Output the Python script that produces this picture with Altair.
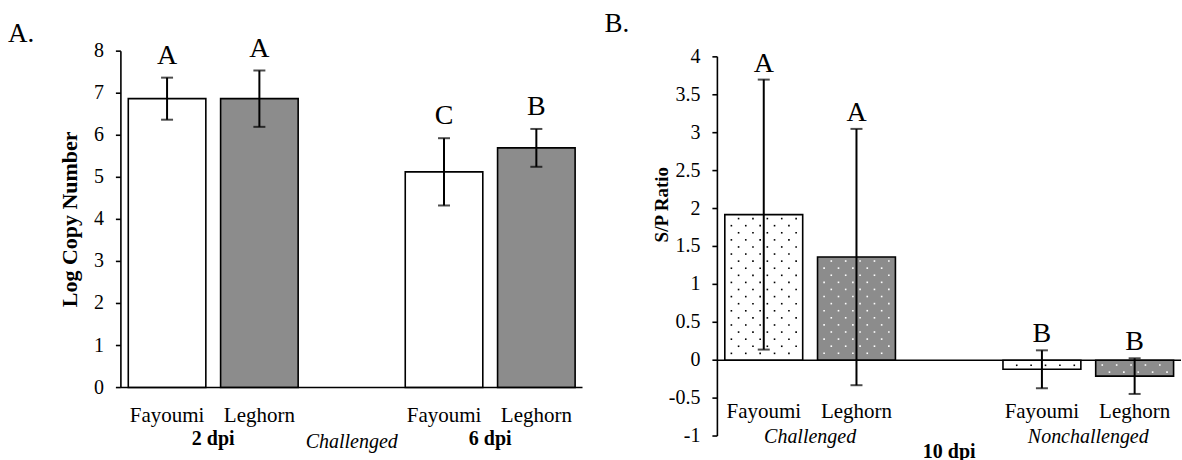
import altair as alt
import numpy as np
import pandas as pd

FONT = "Liberation Serif"
GRAY = "#8c8c8c"

# ---- Panel A: log copy number, challenged birds at 2 and 6 dpi ----
a_breed = ["Fayoumi", "Leghorn", "Fayoumi", "Leghorn"]
a_slot = [0, 1, 3, 4]
a_day = ["2 dpi", "2 dpi", "6 dpi", "6 dpi"]
a_mean = [6.87, 6.87, 5.13, 5.70]
a_err = [0.50, 0.67, 0.80, 0.45]
a_letter = ["A", "A", "C", "B"]
a_treatment = "Challenged"
a_ticks = [0, 1, 2, 3, 4, 5, 6, 7, 8]
a_title = "Log Copy Number"

# ---- Panel B: S/P ratio at 10 dpi ----
b_breed = ["Fayoumi", "Leghorn", "Fayoumi", "Leghorn"]
b_slot = [0, 1, 3, 4]
b_group = ["Challenged", "Challenged", "Nonchallenged", "Nonchallenged"]
b_mean = [1.92, 1.36, -0.12, -0.21]
b_err = [1.78, 1.69, 0.25, 0.235]
b_letter = ["A", "A", "B", "B"]
b_day = "10 dpi"
b_ticks = [-1, -0.5, 0, 0.5, 1, 1.5, 2, 2.5, 3, 3.5, 4]
b_title = "S/P Ratio"

BAR_HALF = 0.42  # half bar width, in slot units


def bar_table(breed, slot, mean, err, letter):
    df = pd.DataFrame({"breed": breed, "slot": slot, "mean": mean, "err": err, "letter": letter})
    df["lo"] = df["slot"] - BAR_HALF
    df["hi"] = df["slot"] + BAR_HALF
    df["top"] = df["mean"] + df["err"]
    df["bot"] = df["mean"] - df["err"]
    df["zero"] = 0.0
    return df


def dot_texture(df, px_per_unit, px_per_slot):
    """Staggered dot fill inside each bar, stepping from the bar's outer end toward zero."""
    row_step = 7.1 / px_per_unit
    inset = 4.0 / px_per_unit
    keep = 3.0 / px_per_unit
    col_step = 7.2 / px_per_slot
    rows = []
    for _, r in df.iterrows():
        sign = 1 if r["mean"] >= 0 else -1
        k = 0
        while True:
            yv = r["mean"] - sign * (inset + k * row_step)
            if sign * yv < keep:
                break
            for j in range(-5, 5):
                if (j - k) % 2 == 0:
                    rows.append({"breed": r["breed"], "x": r["slot"] + (j + 0.5) * col_step, "y": yv})
            k += 1
    return pd.DataFrame(rows)


def y_axis_layers(ticks, y_scale, title, title_size, title_x, title_y):
    """Left value axis drawn from marks: spine, outward ticks, labels and rotated title."""
    tdf = pd.DataFrame({"tick": ticks, "label": [f"{v:g}" for v in ticks]})
    spine = alt.Chart(pd.DataFrame({"lo": [min(ticks)], "hi": [max(ticks)]})).mark_rule(
        color="black", strokeWidth=1.6
    ).encode(x=alt.value(0), y=alt.Y("lo:Q", scale=y_scale, axis=None), y2="hi:Q")
    tick_marks = alt.Chart(tdf).mark_rule(color="black", strokeWidth=1.6).encode(
        x=alt.value(-5), x2=alt.value(0), y=alt.Y("tick:Q", scale=y_scale, axis=None)
    )
    labels = alt.Chart(tdf).mark_text(
        font=FONT, fontSize=20, align="right", baseline="middle", color="black"
    ).encode(x=alt.value(-17), y=alt.Y("tick:Q", scale=y_scale, axis=None), text="label:N")
    heading = alt.Chart(pd.DataFrame({"name": [title]})).mark_text(
        font=FONT, fontSize=title_size, fontWeight="bold", angle=270, align="center", baseline="middle", color="black"
    ).encode(x=alt.value(title_x), y=alt.value(title_y), text="name:N")
    return [spine, tick_marks, labels, heading]


def panel(df, ticks, y_scale, title, title_size, title_x, title_y, width, height, label_y,
          group_df, group_y, group_weight, group_style,
          center_text, center_y, center_weight, center_style, letter_dy, corner, corner_y, dots=None):
    xs = alt.Scale(domain=[-0.5, 4.5], nice=False, zero=False)
    base = alt.Chart(df)
    fill = alt.Fill("breed:N", scale=alt.Scale(domain=["Fayoumi", "Leghorn"], range=["white", GRAY]), legend=None)

    def ny(field):
        return alt.Y(field, scale=y_scale, axis=None)

    bars = base.mark_rect(stroke="black", strokeWidth=1.6).encode(
        x=alt.X("lo:Q", scale=xs, axis=None),
        x2="hi:Q",
        y=ny("mean:Q"),
        y2="zero:Q",
        fill=fill,
    )
    layers = [bars]
    if dots is not None:
        dot_layer = alt.Chart(dots).mark_square(size=2.6, opacity=1).encode(
            x=alt.X("x:Q", scale=xs, axis=None),
            y=ny("y:Q"),
            color=alt.Color("breed:N", scale=alt.Scale(domain=["Fayoumi", "Leghorn"], range=["black", "white"]), legend=None),
        )
        layers.append(dot_layer)

    zero_line = alt.Chart(pd.DataFrame({"z": [0]})).mark_rule(color="black", strokeWidth=1.6).encode(
        y=ny("z:Q")
    )
    err_rule = base.mark_rule(color="black", strokeWidth=2).encode(
        x=alt.X("slot:Q", scale=xs, axis=None), y=ny("top:Q"), y2="bot:Q"
    )
    cap_top = base.mark_tick(orient="horizontal", size=12, thickness=2, color="black").encode(
        x=alt.X("slot:Q", scale=xs, axis=None), y=ny("top:Q")
    )
    cap_bot = base.mark_tick(orient="horizontal", size=12, thickness=2, color="black").encode(
        x=alt.X("slot:Q", scale=xs, axis=None), y=ny("bot:Q")
    )
    letters = base.mark_text(font=FONT, fontSize=28, baseline="alphabetic", dy=letter_dy, color="black").encode(
        x=alt.X("slot:Q", scale=xs, axis=None), y=ny("top:Q"), text="letter:N"
    )
    breed_labels = base.mark_text(font=FONT, fontSize=21, baseline="middle", color="black").encode(
        x=alt.X("slot:Q", scale=xs, axis=None), y=alt.value(label_y), text="breed:N"
    )
    group_labels = alt.Chart(group_df).mark_text(
        font=FONT, fontSize=20, fontWeight=group_weight, fontStyle=group_style, baseline="middle", color="black"
    ).encode(x=alt.X("slot:Q", scale=xs, axis=None), y=alt.value(group_y), text="name:N")
    center_label = alt.Chart(pd.DataFrame({"name": [center_text], "slot": [float(np.mean(df["slot"]))]})).mark_text(
        font=FONT, fontSize=20, fontWeight=center_weight, fontStyle=center_style, baseline="middle", color="black"
    ).encode(x=alt.X("slot:Q", scale=xs, axis=None), y=alt.value(center_y), text="name:N")
    corner_label = alt.Chart(pd.DataFrame({"name": [corner]})).mark_text(
        font=FONT, fontSize=27, align="left", baseline="alphabetic", color="black"
    ).encode(x=alt.value(-113), y=alt.value(corner_y), text="name:N")

    layers += [zero_line, err_rule, cap_top, cap_bot, letters, breed_labels, group_labels, center_label, corner_label]
    layers += y_axis_layers(ticks, y_scale, title, title_size, title_x, title_y)
    return alt.layer(*layers).properties(width=width, height=height)


# Panel A
a_df = bar_table(a_breed, a_slot, a_mean, a_err, a_letter)
a_groups = a_df.assign(name=a_day).groupby("name", as_index=False)["slot"].mean()
a_height = 336.7
a_chart = panel(
    a_df, a_ticks, alt.Scale(domain=[0, 8], nice=False, zero=False),
    a_title, 22, -51, a_height / 2,
    462, a_height, 364.7, a_groups, 387.7, "bold", "normal",
    a_treatment, 390.7, "normal", "italic", -14, "A.", -9.3,
)

# Panel B
b_df = bar_table(b_breed, b_slot, b_mean, b_err, b_letter)
b_groups = b_df.assign(name=b_group).groupby("name", as_index=False)["slot"].mean()
b_dots = dot_texture(b_df, 75.9, 92.8)
b_chart = panel(
    b_df, b_ticks, alt.Scale(domain=[-1, 4], range=[385.2, 5.7], nice=False, zero=False),
    b_title, 19, -55.5, 153.7,
    464, 386, 360.7, b_groups, 385.7, "normal", "italic",
    b_day, 400.7, "bold", "normal", -8, "B.", -19.3, dots=b_dots,
)

chart = alt.hconcat(a_chart, b_chart, spacing=135, bounds="flush").properties(
    padding={"left": 8, "top": 9, "right": 0, "bottom": 0}
).configure_view(stroke=None)

chart.save("out.html", embed_options={"renderer": "svg", "actions": False})
